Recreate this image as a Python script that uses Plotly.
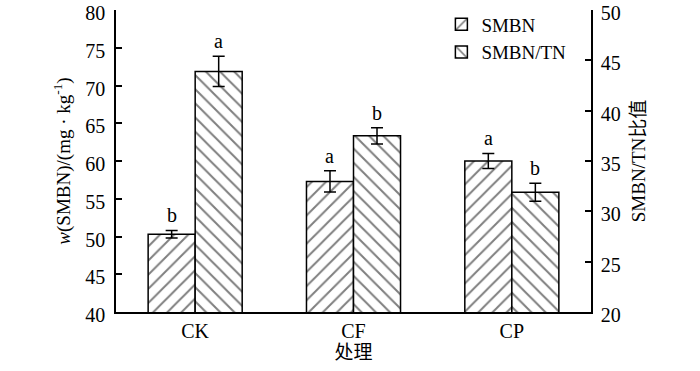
import plotly.graph_objects as go

categories = ["CK", "CF", "CP"]
smbn = [50.3, 57.3, 60.0]
smbn_err = [0.5, 1.4, 1.0]
ratio = [43.9, 37.5, 31.9]
ratio_err = [1.5, 0.8, 0.9]
smbn_letters = ["b", "a", "a"]
ratio_letters = ["a", "b", "b"]
left_ticks = [40, 45, 50, 55, 60, 65, 70, 75, 80]
right_ticks = [20, 25, 30, 35, 40, 45, 50]

xs = list(range(len(categories)))
off = 0.1485
serif = "Liberation Serif, Times New Roman, Noto Sans CJK SC, serif"

fig = go.Figure()
fig.add_trace(go.Bar(
    x=xs, y=smbn, name="SMBN", yaxis="y", offsetgroup="1",
    marker=dict(color="white", line=dict(color="black", width=1.5),
                pattern=dict(shape="/", fgcolor="black", bgcolor="white", size=10, solidity=0.2)),
    error_y=dict(type="data", array=smbn_err, color="black", thickness=1.5, width=6),
))
fig.add_trace(go.Bar(
    x=xs, y=ratio, name="SMBN/TN", yaxis="y2", offsetgroup="2",
    marker=dict(color="white", line=dict(color="black", width=1.5),
                pattern=dict(shape="\\", fgcolor="black", bgcolor="white", size=10, solidity=0.2)),
    error_y=dict(type="data", array=ratio_err, color="black", thickness=1.5, width=6),
))

ann = []
for i in xs:
    ann.append(dict(x=i - off, y=smbn[i] + smbn_err[i], xref="x", yref="y", text=smbn_letters[i],
                    showarrow=False, yanchor="bottom", yshift=2, font=dict(family=serif, size=20, color="black")))
    ann.append(dict(x=i + off, y=ratio[i] + ratio_err[i], xref="x", yref="y2", text=ratio_letters[i],
                    showarrow=False, yanchor="bottom", yshift=2, font=dict(family=serif, size=20, color="black")))

fig.update_layout(
    width=700, height=371,
    margin=dict(l=116, r=109, t=10, b=59, autoexpand=False),
    paper_bgcolor="white", plot_bgcolor="white",
    barmode="group", bargap=0.406, bargroupgap=0,
    font=dict(family=serif, size=20, color="black"),
    showlegend=True,
    legend=dict(x=0.685, y=1.015, xanchor="left", yanchor="top", bgcolor="rgba(0,0,0,0)",
                font=dict(family=serif, size=19), itemwidth=30, tracegroupgap=0),
    xaxis=dict(range=[-0.5, 2.5], tickvals=xs, ticktext=categories, showline=True, linecolor="black",
               linewidth=1.5, ticks="", showgrid=False, zeroline=False, automargin=False,
               tickfont=dict(size=20),
               title=dict(text="处理", font=dict(family=serif, size=19), standoff=2)),
    yaxis=dict(range=[40, 80], tickvals=left_ticks, showline=True, linecolor="black", linewidth=1.5,
               automargin=False, ticklabeloverflow="allow", ticklabelstandoff=5, ticklabelshift=3,
               ticks="inside", ticklen=6, tickwidth=1.5, tickcolor="black", showgrid=False, zeroline=False,
               title=dict(text="<i>w</i>(SMBN)/(mg · kg<sup>-1</sup>)", font=dict(family=serif, size=19), standoff=10)),
    yaxis2=dict(range=[20, 50], tickvals=right_ticks, overlaying="y", side="right", showline=True,
                linecolor="black", linewidth=1.5, ticks="inside", ticklen=6, tickwidth=1.5, tickcolor="black",
                showgrid=False, zeroline=False, automargin=False, ticklabeloverflow="allow",
                ticklabelstandoff=4, ticklabelshift=3,
                title=dict(text="SMBN/TN比值", font=dict(family=serif, size=19), standoff=12)),
    annotations=ann,
)

fig.write_html("out.html", config={"displayModeBar": False},
               post_script="document.body.style.margin='0';document.body.style.padding='0';")
